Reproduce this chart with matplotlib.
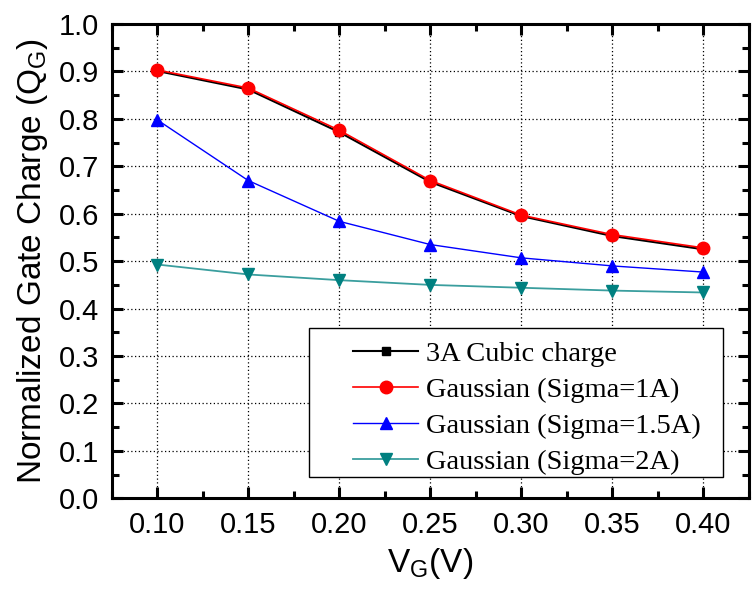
import numpy as np
import matplotlib
matplotlib.use("Agg")
import matplotlib.pyplot as plt
from matplotlib.patches import Rectangle
from matplotlib.ticker import MultipleLocator, FormatStrFormatter

# data
vg = [0.10, 0.15, 0.20, 0.25, 0.30, 0.35, 0.40]
cubic = [0.901, 0.862, 0.772, 0.667, 0.595, 0.553, 0.525]
sigma1 = [0.903, 0.865, 0.776, 0.670, 0.597, 0.556, 0.528]
sigma15 = [0.798, 0.670, 0.584, 0.535, 0.507, 0.490, 0.477]
sigma2 = [0.493, 0.472, 0.460, 0.450, 0.444, 0.438, 0.434]

labels = ["3A Cubic charge", "Gaussian (Sigma=1A)",
          "Gaussian (Sigma=1.5A)", "Gaussian (Sigma=2A)"]

plt.rcParams['font.family'] = ['Liberation Sans', 'DejaVu Sans']
plt.rcParams['mathtext.default'] = 'regular'

fig = plt.figure(figsize=(7.52, 5.94), dpi=100)
ax = fig.add_axes([0.1485, 0.161, 0.8475, 0.7986])

ax.plot(vg, cubic, color='black', lw=1.5, marker='s', ms=6, label=labels[0])
ax.plot(vg, sigma1, color='red', lw=1.2, marker='o', ms=9, label=labels[1])
ax.plot(vg, sigma15, color='blue', lw=1.0, marker='^', ms=9, label=labels[2])
ax.plot(vg, sigma2, color='#3a9e9e', lw=1.3, marker='v', ms=9,
        mfc='teal', mec='teal', label=labels[3])

ax.set_xlim(0.075, 0.425)
ax.set_ylim(0.0, 1.0)
ax.xaxis.set_major_locator(MultipleLocator(0.05))
ax.xaxis.set_minor_locator(MultipleLocator(0.025))
ax.yaxis.set_major_locator(MultipleLocator(0.1))
ax.yaxis.set_minor_locator(MultipleLocator(0.05))
ax.xaxis.set_major_formatter(FormatStrFormatter('%.2f'))
ax.yaxis.set_major_formatter(FormatStrFormatter('%.1f'))

ax.grid(True, which='major', color='black', linestyle=(0, (1, 2)), lw=0.9)
ax.tick_params(which='both', direction='in', top=True, right=True,
               width=2.2, labelsize=21)
ax.tick_params(which='major', length=8, pad=9)
ax.tick_params(which='minor', length=5)
for sp in ax.spines.values():
    sp.set_linewidth(2.2)

ax.set_xlabel('V$_G$(V)', fontsize=24, labelpad=5)
ax.set_ylabel('Normalized Gate Charge (Q$_G$)', fontsize=24, labelpad=6)

# legend frame drawn separately, it has a wide left margin in the original
ax.add_patch(Rectangle((0.3096, 0.045), 0.6494, 0.314, transform=ax.transAxes,
                       facecolor='white', edgecolor='black', lw=1.0, zorder=4))
leg = ax.legend(loc='upper left', bbox_to_anchor=(0.3786, 0.332),
                borderaxespad=0, borderpad=0, frameon=False,
                handlelength=2.3, handletextpad=0.28, labelspacing=0.36,
                prop={'family': 'Liberation Serif', 'size': 20.5})
leg.set_zorder(5)

fig.savefig('out.png', dpi=100)
